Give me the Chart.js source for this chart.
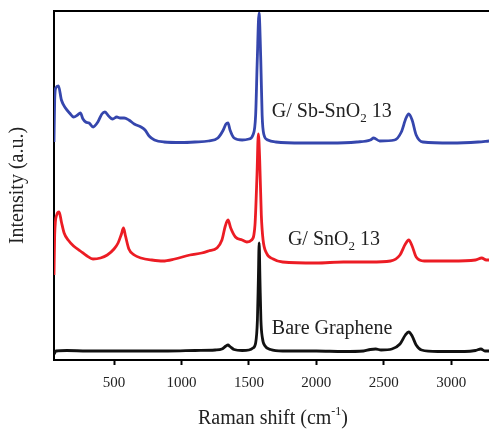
<!DOCTYPE html>
<html>
<head>
<meta charset="utf-8">
<script src="https://cdn.jsdelivr.net/npm/chart.js@4.4.1/dist/chart.umd.min.js"></script>
<style>
  html, body { margin: 0; padding: 0; background: #fff; }
  #wrap { width: 489px; height: 430px; }
</style>
</head>
<body>
<div id="wrap"><canvas id="c" width="489" height="430"></canvas></div>
<script>
// ---- Data (Raman shift in cm^-1, intensity in arbitrary units, stacked/offset as in the figure) ----
const xTickValues = [500, 1000, 1500, 2000, 2500, 3000];

const shiftSbSnO2 = [55, 60, 68, 88, 110, 140, 170, 200, 230, 250, 270, 290, 315, 345, 380, 410, 433, 460, 490, 520, 545, 575, 610, 650, 700, 730, 760, 800, 870, 1000, 1100, 1200, 1270, 1310, 1330, 1345, 1360, 1390, 1450, 1500, 1530, 1550, 1562, 1575, 1588, 1598, 1610, 1640, 1700, 1900, 2100, 2300, 2400, 2425, 2470, 2580, 2630, 2665, 2685, 2710, 2740, 2790, 3000, 3200, 3280];
const intensitySbSnO2 = [218, 260, 272, 274, 260, 252, 247, 243, 245, 247, 241, 238, 237, 233, 238, 246, 248, 244, 241, 243, 242, 242, 240, 236, 233, 230, 224, 220, 218, 217.5, 218, 219, 222, 230, 236, 237, 230, 222, 220, 221, 225, 245, 300, 347, 300, 245, 226, 220, 218, 217, 217, 218, 220, 222, 219, 220, 228, 242, 246, 240, 225, 218, 217, 218, 219];

const shiftSnO2 = [55, 60, 75, 93, 110, 130, 160, 200, 250, 300, 344, 400, 450, 500, 530, 555, 570, 585, 610, 650, 700, 780, 863, 950, 1063, 1150, 1200, 1263, 1300, 1325, 1345, 1365, 1400, 1450, 1485, 1520, 1545, 1560, 1570, 1580, 1592, 1605, 1630, 1680, 1750, 2000, 2200, 2400, 2550, 2620, 2660, 2685, 2710, 2740, 2800, 3000, 3180, 3226, 3260, 3280];
const intensitySnO2 = [85, 125, 145, 148, 138, 127, 120, 114, 109, 104, 101, 102, 105, 111, 117, 126, 132, 124, 111, 105, 102, 100, 99, 101, 105, 107, 109, 112, 120, 134, 140, 132, 123, 120, 118, 120, 135, 185, 226, 200, 145, 120, 107, 101, 98, 97, 98, 98, 99, 105, 116, 120, 114, 103, 99, 99, 100, 102, 100, 100];

const shiftBare = [56, 70, 150, 300, 500, 700, 900, 1100, 1250, 1300, 1330, 1345, 1360, 1390, 1450, 1500, 1530, 1550, 1563, 1570, 1576, 1582, 1589, 1600, 1620, 1660, 1750, 2000, 2200, 2350, 2400, 2440, 2480, 2560, 2620, 2660, 2685, 2710, 2740, 2780, 2900, 3100, 3180, 3220, 3250, 3280];
const intensityBare = [6, 9, 9.5, 9, 9, 9, 9, 9.5, 10, 11, 14, 15, 13.5, 10.5, 9.5, 10, 12, 17, 40, 80, 117, 80, 40, 22, 14, 10.5, 9, 9, 8.5, 9, 10.5, 11, 10, 11, 16, 25, 28, 24, 15, 10, 8.5, 8.5, 9.5, 11, 9, 9];

const seriesNames = ['G/ Sb-SnO2 13', 'G/ SnO2 13', 'Bare Graphene'];

// annotation anchors (data coordinates)
const annotations = [
  { parts: [['G/ Sb-SnO', 0], ['2', 1], [' 13', 0]], x: 1670, y: 250 },
  { parts: [['G/ SnO', 0], ['2', 1], [' 13', 0]], x: 1789, y: 122 },
  { parts: [['Bare Graphene', 0]], x: 1670, y: 33 }
];

const toPts = (xs, ys) => xs.map((x, i) => ({ x: x, y: ys[i] }));

const SERIF = '"Liberation Serif", "DejaVu Serif", serif';
const TEXT = '#222';

const framePlugin = {
  id: 'frame',
  afterDraw(chart) {
    const { ctx, chartArea: a, scales } = chart;
    ctx.save();
    // top frame line
    ctx.strokeStyle = '#000';
    ctx.lineWidth = 2;
    ctx.beginPath();
    ctx.moveTo(a.left - 1, a.top);
    ctx.lineTo(a.right, a.top);
    ctx.stroke();

    // annotations with subscripts
    ctx.fillStyle = TEXT;
    ctx.textBaseline = 'alphabetic';
    ctx.textAlign = 'left';
    annotations.forEach(an => {
      let px = scales.x.getPixelForValue(an.x);
      const py = scales.y.getPixelForValue(an.y) + 7;
      an.parts.forEach(([t, sub]) => {
        ctx.font = sub ? '13px ' + SERIF : '20px ' + SERIF;
        ctx.fillText(t, px, sub ? py + 5 : py);
        px += ctx.measureText(t).width;
      });
    });

    // x-axis title with superscript
    const main1 = 'Raman shift (cm', sup = '-1', main2 = ')';
    ctx.font = '20px ' + SERIF;
    const w1 = ctx.measureText(main1).width, w3 = ctx.measureText(main2).width;
    ctx.font = '12px ' + SERIF;
    const w2 = ctx.measureText(sup).width;
    let tx = 273 - (w1 + w2 + w3) / 2;
    const ty = 424;
    ctx.font = '20px ' + SERIF;
    ctx.fillText(main1, tx, ty); tx += w1;
    ctx.font = '12px ' + SERIF;
    ctx.fillText(sup, tx, ty - 9); tx += w2;
    ctx.font = '20px ' + SERIF;
    ctx.fillText(main2, tx, ty);
    ctx.restore();
  }
};

const lineDs = (label, pts, color) => ({
  label, data: pts, borderColor: color, backgroundColor: color,
  borderWidth: 2.8, pointRadius: 0, fill: false,
  cubicInterpolationMode: 'monotone'
});

new Chart(document.getElementById('c'), {
  type: 'line',
  data: {
    datasets: [
      lineDs(seriesNames[0], toPts(shiftSbSnO2, intensitySbSnO2), '#3546ad'),
      lineDs(seriesNames[1], toPts(shiftSnO2, intensitySnO2), '#ec1c24'),
      lineDs(seriesNames[2], toPts(shiftBare, intensityBare), '#111111')
    ]
  },
  options: {
    responsive: false,
    devicePixelRatio: 1,
    animation: false,
    layout: { padding: { top: 11, left: 0, right: 0, bottom: 0 } },
    plugins: { legend: { display: false }, tooltip: { enabled: false } },
    scales: {
      x: {
        type: 'linear', min: 55, max: 3280,
        afterBuildTicks: s => { s.ticks = xTickValues.map(v => ({ value: v })); },
        afterFit: s => { s.height = 70; },
        border: { display: true, color: '#000', width: 2 },
        grid: { drawOnChartArea: false, drawTicks: true, tickLength: 5, tickColor: '#000', tickWidth: 2 },
        ticks: { color: TEXT, font: { family: SERIF, size: 15 }, padding: 9, maxRotation: 0, callback: v => String(v) },
        title: { display: false }
      },
      y: {
        type: 'linear', min: 0, max: 349,
        afterFit: s => { s.width = 54; },
        border: { display: true, color: '#000', width: 2 },
        grid: { drawOnChartArea: false, drawTicks: false },
        ticks: { display: false },
        title: { display: true, text: 'Intensity (a.u.)', color: TEXT, font: { family: SERIF, size: 20 }, padding: { top: 6, bottom: 0 } }
      }
    }
  },
  plugins: [framePlugin]
});
</script>
</body>
</html>
